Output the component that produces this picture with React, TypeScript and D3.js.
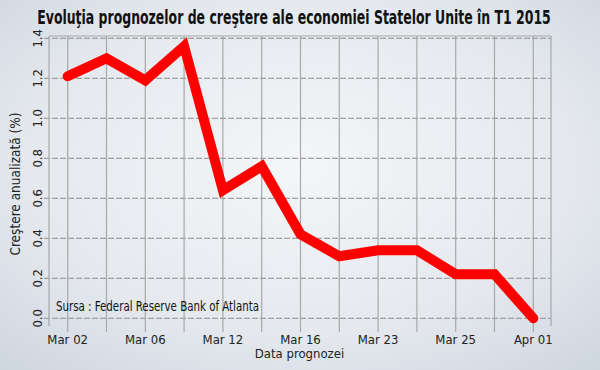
import React from 'react';
import * as d3 from 'd3';

// forecast dates (only every other one is labelled on the axis)
const dates = ['Mar 02', 'Mar 04', 'Mar 06', 'Mar 09', 'Mar 12', 'Mar 13', 'Mar 16', 'Mar 18', 'Mar 23', 'Mar 24', 'Mar 25', 'Mar 27', 'Apr 01'];
const tickLabels = ['Mar 02', 'Mar 06', 'Mar 12', 'Mar 16', 'Mar 23', 'Mar 25', 'Apr 01'];
const growth = [1.21, 1.30, 1.19, 1.36, 0.64, 0.76, 0.42, 0.31, 0.34, 0.34, 0.22, 0.22, 0.0];
const yTicks = [0, 0.2, 0.4, 0.6, 0.8, 1.0, 1.2, 1.4];

const title = 'Evoluţia prognozelor de creştere ale economiei Statelor Unite în T1 2015';
const yTitle = 'Creştere anualizată (%)';
const xTitle = 'Data prognozei';
const source = 'Sursa : Federal Reserve Bank of Atlanta';

const W = 600;
const H = 370;
const box = { left: 49, right: 551, top: 36, bottom: 326 };
const narrow = '"Liberation Sans Narrow", "DejaVu Sans Condensed", "Liberation Sans", sans-serif';

export default function App() {
  const x = d3.scalePoint<string>().domain(dates).range([67.7, 533.3]);
  const y = d3.scaleLinear().domain([0, 1.4]).range([318.3, 38.3]);

  const line = d3.line<number>()
    .x((d, i) => x(dates[i]) as number)
    .y(d => y(d));

  return (
    <svg width={W} height={H} style={{ position: 'absolute', left: 0, top: 0 }}>
      <defs>
        <radialGradient id="bg" cx="50%" cy="45%" r="75%">
          <stop offset="0%" stopColor="#f4f6f8" />
          <stop offset="60%" stopColor="#e5e9ee" />
          <stop offset="100%" stopColor="#cdd5df" />
        </radialGradient>
      </defs>
      <rect x={0} y={0} width={W} height={H} fill="url(#bg)" />

      {/* title squeezed horizontally to match the condensed look */}
      <g transform="translate(294,24) scale(0.73,1)">
        <text x={0} y={0} textAnchor="middle" fontFamily={narrow} fontWeight="bold"
          fontSize={19} fill="#111">{title}</text>
      </g>

      {/* vertical grid lines, extended below as ticks */}
      {dates.map(d => (
        <line key={d} x1={x(d)} x2={x(d)} y1={box.top} y2={332} stroke="#a8a8a8" strokeWidth={1.2} />
      ))}
      {/* horizontal dashed grid lines */}
      {yTicks.map(t => (
        <line key={t} x1={44} x2={box.right} y1={y(t)} y2={y(t)} stroke="#a0a0a0"
          strokeWidth={1.2} strokeDasharray="6,2" />
      ))}
      {/* plot frame */}
      <line x1={box.left} x2={box.right} y1={box.top} y2={box.top} stroke="#a8a8a8" strokeWidth={1.2} />
      <line x1={box.left} x2={box.left} y1={box.top} y2={box.bottom} stroke="#a8a8a8" strokeWidth={1.2} />
      <line x1={box.right} x2={box.right} y1={box.top} y2={box.bottom} stroke="#a8a8a8" strokeWidth={1.2} />

      {/* y tick labels (rotated) */}
      {yTicks.map(t => (
        <text key={t} transform={`translate(42,${y(t)}) rotate(-90)`} textAnchor="middle"
          fontFamily={narrow} fontSize={13} fill="#222">{d3.format('.1f')(t)}</text>
      ))}
      <text transform={`translate(20,184) rotate(-90)`} textAnchor="middle" fontFamily={narrow}
        fontSize={13.5} fill="#222">{yTitle}</text>

      {/* x tick labels */}
      {dates.filter(d => tickLabels.includes(d)).map(d => (
        <text key={d} x={x(d)} y={344} textAnchor="middle" fontFamily={narrow} fontSize={13} fill="#222">{d}</text>
      ))}
      <text x={299.5} y={358} textAnchor="middle" fontFamily={narrow} fontSize={13} fill="#222">{xTitle}</text>

      <text x={56} y={311} fontFamily={narrow} fontSize={14} fill="#111" textLength={203}
        lengthAdjust="spacingAndGlyphs">{source}</text>

      <path d={line(growth) as string} fill="none" stroke="#ff0000" strokeWidth={10}
        strokeLinecap="round" strokeLinejoin="miter" />
    </svg>
  );
}
